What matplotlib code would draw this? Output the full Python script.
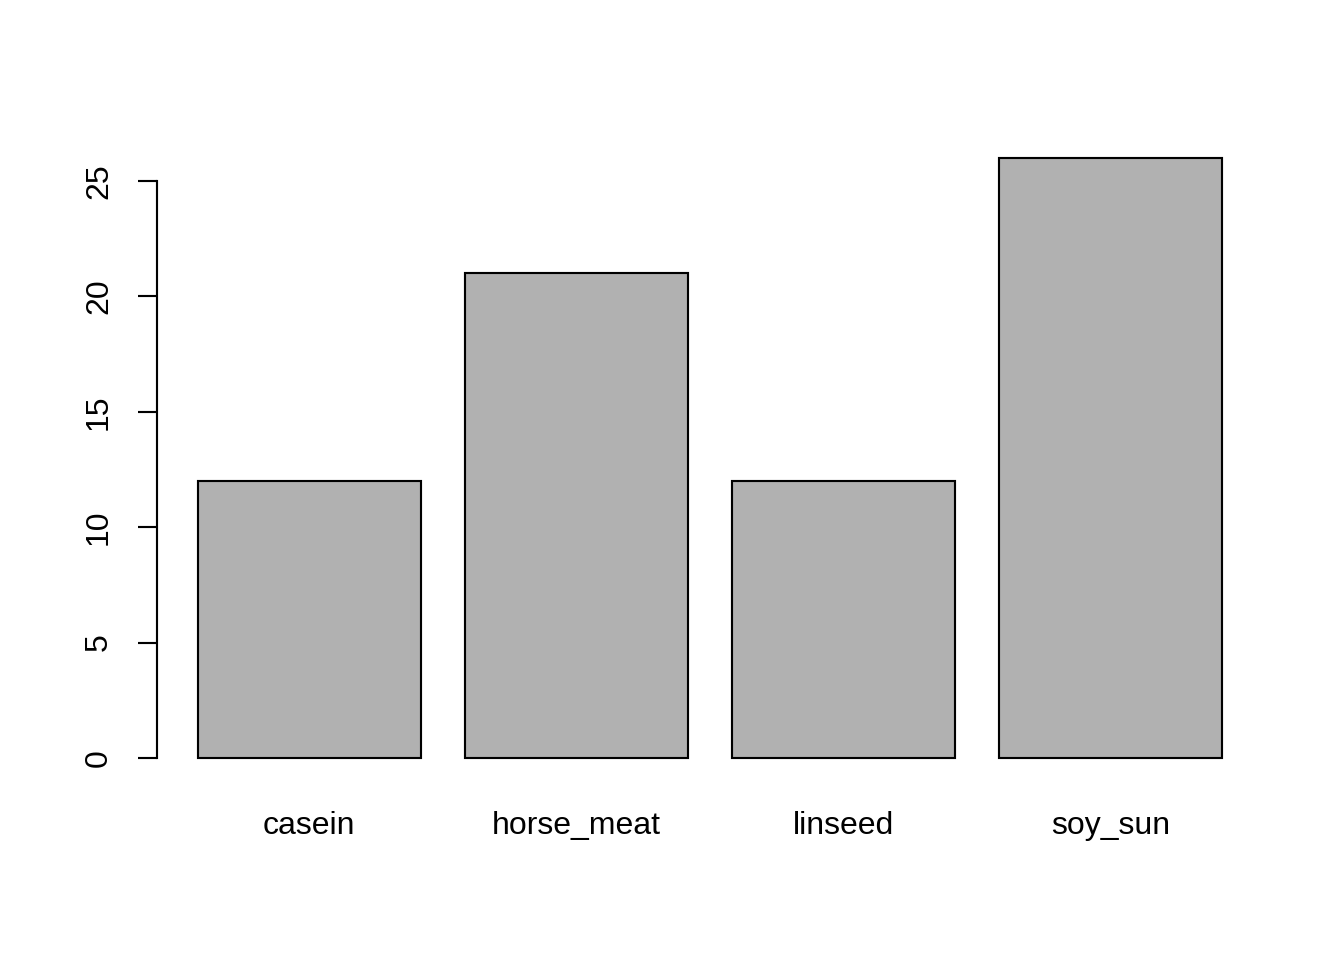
import matplotlib
matplotlib.use('Agg')
import matplotlib.pyplot as plt
import numpy as np

# diet groups and counts
diets = ['casein', 'horse_meat', 'linseed', 'soy_sun']
counts = [12, 21, 12, 26]
yticks = [0, 5, 10, 15, 20, 25]

plt.rcParams['font.family'] = ['Liberation Sans', 'DejaVu Sans']

fig = plt.figure(figsize=(7, 5), dpi=192)
W, H = 1344, 960
ax = fig.add_axes([157 / W, 1 - 782 / H, (1263 - 157) / W, (782 - 134) / H])

# R-style bar positions: width 1, space 0.2
lefts = 0.2 + np.arange(len(diets)) * 1.2
centers = lefts + 0.5
ax.bar(centers, counts, width=1.0, color='#b1b1b1', edgecolor='black', linewidth=0.8)

ax.set_xlim(0.016, 4.984)
ax.set_ylim(-1.04, 27.04)

for s in ['top', 'right', 'bottom']:
    ax.spines[s].set_visible(False)
ax.spines['left'].set_bounds(0, 25)
ax.spines['left'].set_linewidth(0.8)

ax.set_yticks(yticks)
ax.set_yticklabels([str(v) for v in yticks], rotation=90, va='center', fontsize=12)
ax.tick_params(axis='y', length=7.1, width=0.8, pad=9)

ax.set_xticks(centers)
ax.set_xticklabels(diets, fontsize=12)
ax.tick_params(axis='x', length=0, pad=11)

fig.savefig('out.png', dpi=192)
